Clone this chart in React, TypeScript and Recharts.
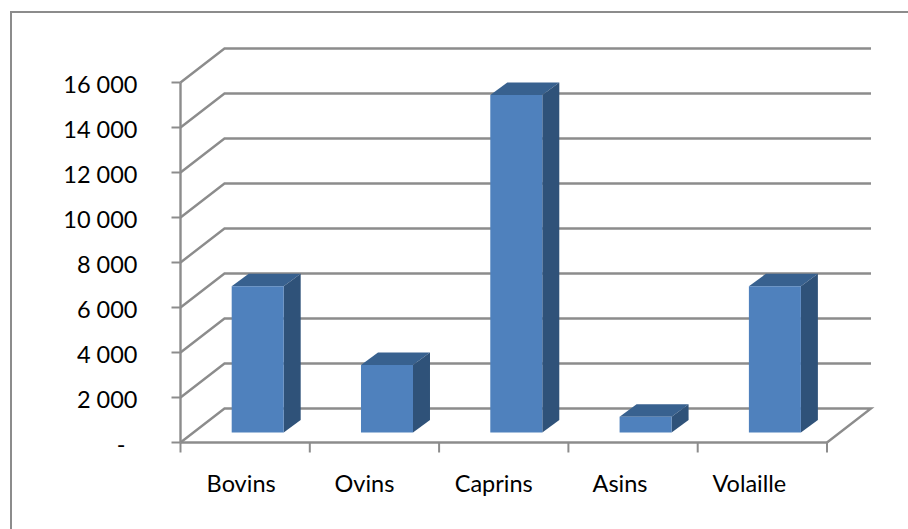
import { BarChart, Bar, XAxis, YAxis, CartesianGrid } from 'recharts';

const categories = ['Bovins', 'Ovins', 'Caprins', 'Asins', 'Volaille'];
const effectifs = [6500, 3000, 15000, 700, 6500];
const yTicks = [0, 2000, 4000, 6000, 8000, 10000, 12000, 14000, 16000];
// labels sit a little left of their band in the original
const labelNudge = [-4, -10, -10, -13, -13];

const chartData = categories.map((name, i) => ({ name, value: effectifs[i] }));

const GREY = '#8c8c8c';
const FONT = 'Lato, sans-serif';
const FONT_SIZE = 23.5;
const DEPTH_X = 44;
const DEPTH_Y = 34;
const PLOT_BOTTOM = 442.5;
const X_TICK_LEN = 10;

const formatTick = (v: number): string => {
  if (v === 0) return '-\u00a0\u00a0';
  return String(v).replace(/\B(?=(\d{3})+$)/g, ' ');
};

// wall + floor line, one per y tick
const GridLine = ({ x1, x2, y1 }: any) => {
  const isFloor = Math.abs(y1 - PLOT_BOTTOM) < 1;
  let d = `M${x1},${y1} L${x1 + DEPTH_X},${y1 - DEPTH_Y} L${x2 + DEPTH_X},${y1 - DEPTH_Y}`;
  if (isFloor) d += ` L${x2},${y1}`;
  return <path d={d} fill="none" stroke={GREY} strokeWidth={2.4} />;
};

const Bar3D = ({ x, y, width, height }: any) => {
  const fx = x + 12.4;
  const fy = y - 10;
  const dx = 17;
  const dy = 12.5;
  return (
    <g>
      <path
        d={`M${fx},${fy} L${fx + dx},${fy - dy} L${fx + width + dx},${fy - dy} L${fx + width},${fy} Z`}
        fill="#38618f"
      />
      <path
        d={`M${fx + width},${fy} L${fx + width + dx},${fy - dy} L${fx + width + dx},${fy + height - dy} L${fx + width},${fy + height} Z`}
        fill="#2f5279"
      />
      <rect x={fx} y={fy} width={width} height={height} fill="#4f81bd" />
    </g>
  );
};

// tick marks go on the band edges, not under the label
const CategoryTick = ({ x, y, payload, index, width }: any) => {
  const band = width / categories.length;
  const left = x - band / 2;
  const right = x + band / 2;
  return (
    <g>
      <line x1={left} x2={left} y1={PLOT_BOTTOM} y2={PLOT_BOTTOM + X_TICK_LEN} stroke={GREY} strokeWidth={2} />
      {index === categories.length - 1 && (
        <line x1={right} x2={right} y1={PLOT_BOTTOM} y2={PLOT_BOTTOM + X_TICK_LEN} stroke={GREY} strokeWidth={2} />
      )}
      <text x={x + labelNudge[index]} y={y} dy="0.71em" textAnchor="middle" fontFamily={FONT} fontSize={FONT_SIZE} fill="#000">
        {payload.value}
      </text>
    </g>
  );
};

export default function App() {
  return (
    <div
      style={{
        position: 'absolute',
        left: 0,
        top: 0,
        width: 908,
        height: 529,
        background: '#fff',
        overflow: 'hidden',
      }}
    >
      <div
        style={{
          position: 'absolute',
          left: 10,
          top: 11,
          width: 898,
          height: 518,
          borderLeft: `2px solid ${GREY}`,
          borderTop: `2px solid ${GREY}`,
        }}
      />
      <div style={{ position: 'absolute', left: 0, top: 0 }}>
        <BarChart
          width={908}
          height={529}
          data={chartData}
          barCategoryGap="30%"
          margin={{ top: 82.5, right: 81, bottom: 0, left: 0 }}
        >
          <CartesianGrid
            vertical={false}
            horizontal={(props: any) => <GridLine key={props.index ?? props.y1} {...props} />}
          />
          <XAxis
            dataKey="name"
            height={86.5}
            tick={<CategoryTick />}
            tickSize={0}
            tickMargin={33}
            axisLine={{ stroke: GREY, strokeWidth: 2.4 }}
            tickLine={false}
            interval={0}
          />
          <YAxis
            width={180.5}
            domain={[0, 16000]}
            ticks={yTicks}
            tickFormatter={formatTick}
            tickSize={9}
            tickMargin={34}
            axisLine={{ stroke: GREY, strokeWidth: 2.4 }}
            tickLine={{ stroke: GREY, strokeWidth: 2 }}
            tick={{ fontFamily: FONT, fontSize: FONT_SIZE, fill: '#000', dy: 2 }}
            interval={0}
          />
          <Bar dataKey="value" shape={<Bar3D />} isAnimationActive={false} />
        </BarChart>
      </div>
    </div>
  );
}
